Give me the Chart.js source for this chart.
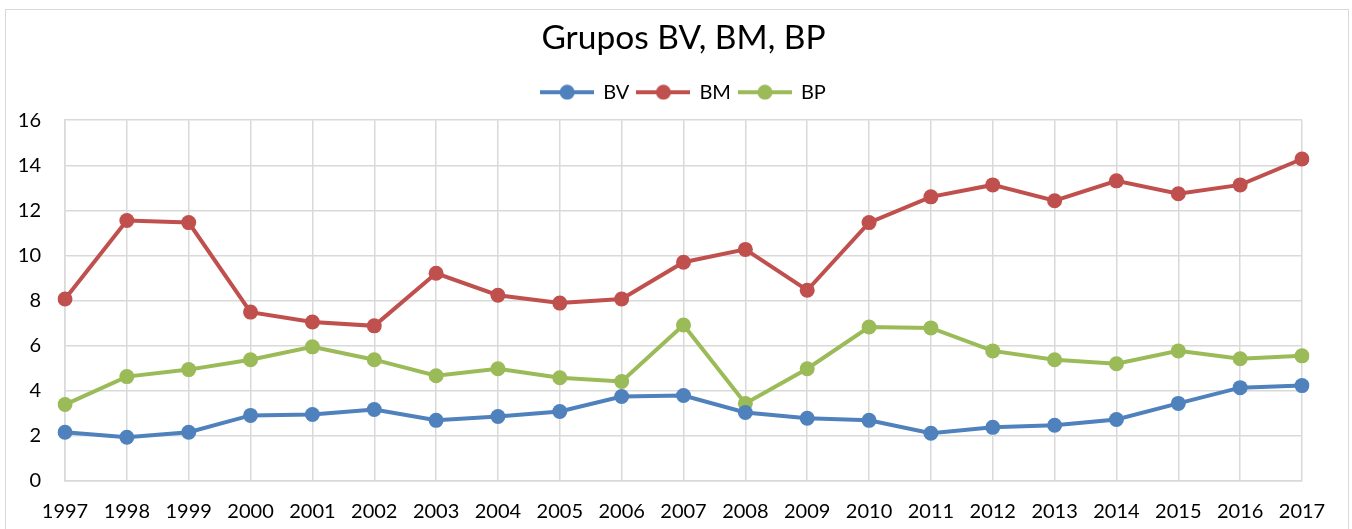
<!DOCTYPE html>
<html>
<head>
<meta charset="utf-8">
<script src="https://cdn.jsdelivr.net/npm/chart.js@4"></script>
<style>
  body { margin: 0; background: #fff; }
  #frame { position: absolute; left: 5px; top: 9px; width: 1342px; height: 560px; border: 1px solid #d9d9d9; }
  #wrap { position: absolute; left: 0; top: 0; width: 1352px; height: 529px; }
</style>
</head>
<body>
<div id="frame"></div>
<div id="wrap"><canvas id="chart"></canvas></div>
<script>
const years = ['1997', '1998', '1999', '2000', '2001', '2002', '2003', '2004', '2005', '2006', '2007',
  '2008', '2009', '2010', '2011', '2012', '2013', '2014', '2015', '2016', '2017'];

const bv = [2.16, 1.94, 2.16, 2.91, 2.95, 3.17, 2.69, 2.86, 3.08, 3.75, 3.79,
  3.04, 2.78, 2.69, 2.12, 2.38, 2.47, 2.73, 3.44, 4.14, 4.23];
const bm = [8.07, 11.55, 11.46, 7.49, 7.05, 6.88, 9.21, 8.24, 7.89, 8.07, 9.70,
  10.27, 8.46, 11.46, 12.60, 13.13, 12.43, 13.31, 12.74, 13.13, 14.28];
const bp = [3.39, 4.63, 4.94, 5.38, 5.95, 5.38, 4.67, 4.98, 4.58, 4.41, 6.92,
  3.44, 4.98, 6.83, 6.79, 5.77, 5.38, 5.20, 5.77, 5.42, 5.55];

const colors = { BV: '#4f81bd', BM: '#c0504d', BP: '#9bbb59' };

// legend icon: short line with a dot in the middle
function legendIcon(color) {
  const c = document.createElement('canvas');
  c.width = 54;
  c.height = 16;
  const g = c.getContext('2d');
  g.strokeStyle = color;
  g.lineWidth = 4;
  g.beginPath();
  g.moveTo(0, 8);
  g.lineTo(54, 8);
  g.stroke();
  g.fillStyle = color;
  g.beginPath();
  g.arc(27, 8, 7.5, 0, Math.PI * 2);
  g.fill();
  return c;
}

function makeSet(label, data) {
  return {
    label: label,
    data: data,
    borderColor: colors[label],
    backgroundColor: colors[label],
    borderWidth: 4,
    pointRadius: 7.5,
    pointHoverRadius: 7.5,
    pointBorderWidth: 0,
    tension: 0
  };
}

// title and legend are centred over the plot area, not the whole canvas;
// also leave some room under the legend
const plotCentered = {
  id: 'plotCentered',
  beforeInit(chart) {
    const fit = chart.legend.fit;
    chart.legend.fit = function () {
      fit.call(this);
      this.height += 8;
    };
  },
  beforeDraw(chart) {
    const area = chart.chartArea;
    [chart.titleBlock, chart.legend].forEach(box => {
      if (box) {
        box.left = area.left;
        box.right = area.right;
      }
    });
  }
};

const font = "Lato, 'Open Sans', sans-serif";

new Chart(document.getElementById('chart'), {
  type: 'line',
  data: {
    labels: years,
    datasets: [makeSet('BV', bv), makeSet('BM', bm), makeSet('BP', bp)]
  },
  plugins: [plotCentered],
  options: {
    responsive: true,
    maintainAspectRatio: false,
    animation: false,
    layout: { padding: { left: 0, right: 50, top: 0, bottom: 0 } },
    plugins: {
      title: {
        display: true,
        text: 'Grupos BV, BM, BP',
        color: '#000',
        font: { family: font, size: 33.5, weight: 'normal' },
        padding: { top: 18, bottom: 16 }
      },
      legend: {
        display: true,
        labels: {
          color: '#000',
          font: { family: font, size: 20 },
          usePointStyle: true,
          pointStyleWidth: 52,
          padding: 8,
          generateLabels: chart => chart.data.datasets.map((ds, i) => ({
            text: ds.label,
            pointStyle: legendIcon(ds.borderColor),
            fillStyle: ds.borderColor,
            strokeStyle: ds.borderColor,
            lineWidth: 0,
            fontColor: '#000',
            datasetIndex: i
          }))
        }
      },
      tooltip: { enabled: false }
    },
    scales: {
      x: {
        offset: false,
        grid: { color: '#d9d9d9', lineWidth: 1.5, drawTicks: false },
        border: { color: '#d9d9d9', width: 1.5 },
        ticks: { color: '#000', font: { family: font, size: 20 }, padding: 19, maxRotation: 0, autoSkip: false },
        afterFit: scale => { scale.height = 48; }
      },
      y: {
        min: 0,
        max: 16,
        grid: { color: '#d9d9d9', lineWidth: 1.5, drawTicks: false },
        border: { color: '#d9d9d9', width: 1.5 },
        ticks: { stepSize: 2, color: '#000', font: { family: font, size: 20 }, padding: 24 },
        afterFit: scale => { scale.width = 65; }
      }
    }
  }
});
</script>
</body>
</html>
